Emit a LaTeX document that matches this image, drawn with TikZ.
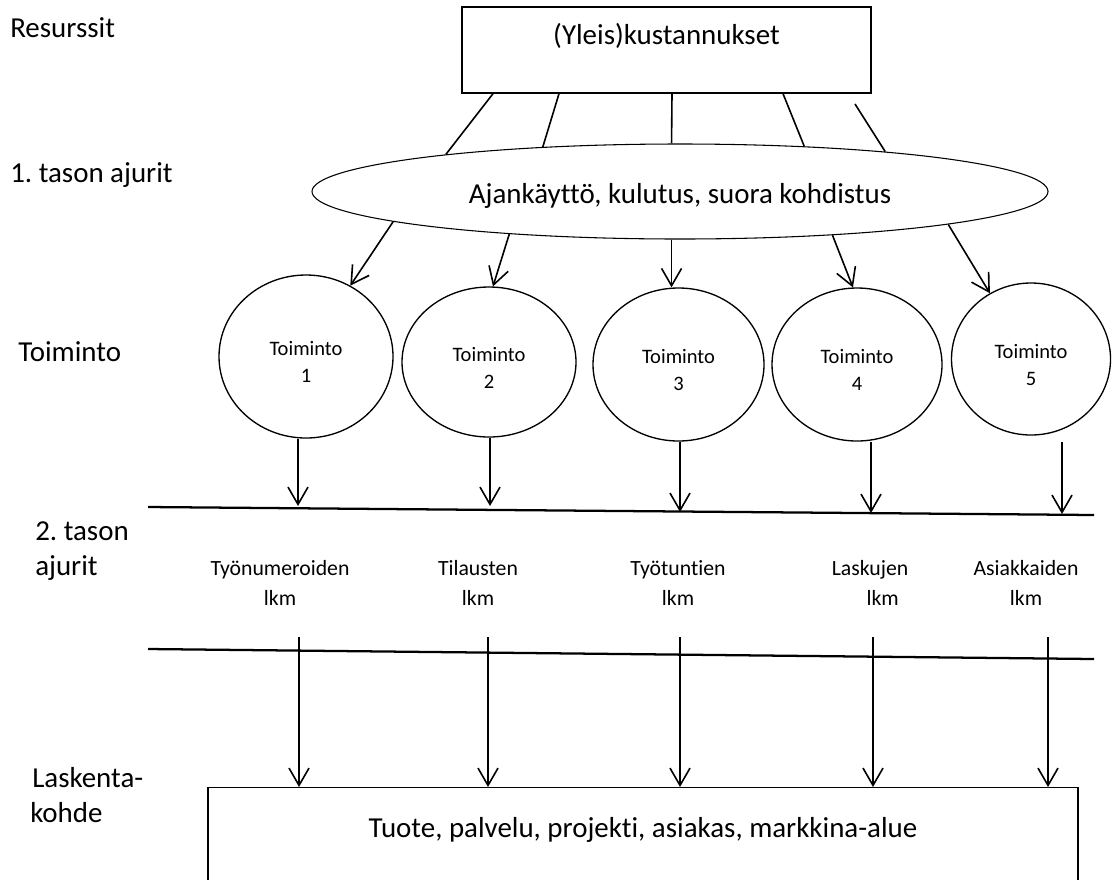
\documentclass[tikz,border=0pt]{standalone}
\usepackage{fontspec}
\setmainfont{Carlito}[Ligatures=NoCommon]
\frenchspacing
\usetikzlibrary{shapes.geometric}
\usetikzlibrary{arrows.meta}

\tikzset{
	iso/.style = {font=\fontsize{21.7}{26}\selectfont, inner sep=0pt},
	pieni/.style = {font=\fontsize{15.4}{20.2}\selectfont, align=center, inner sep=0pt},
	ajuri/.style = {font=\fontsize{16.3}{22.5}\selectfont, align=center, inner sep=0pt},
	laatikko/.style = {draw, rectangle, line width=1pt, inner sep=0pt},
	toiminto/.style = {draw, ellipse, line width=1pt, inner sep=0pt, pieni, text height=39pt, text depth=0pt},
	viiva/.style = {line width=1.2pt},
	nuoli/.style = {line width=1.2pt, ->},
	taso/.style = {line width=1.7pt},
}

\begin{document}
\begin{tikzpicture}[>={Straight Barb[length=13pt, width=15pt]}, x=0.75pt, y=-0.75pt]
	\useasboundingbox (0,0) rectangle (1112,879);
	\clip (0,0) rectangle (1112,879);

	% tasojen nimet vasemmalla
	\node [iso, anchor=base west] (resurssit) at (10,37) {Resurssit};
	\node [iso, anchor=base west] (taso1) at (10,182) {1. tason ajurit};
	\node [iso, anchor=base west] (toimnimi) at (18,361) {Toiminto};
	\node [iso, anchor=base west] (taso2) at (35,540) {2. tason};
	\node [iso, anchor=base west] (taso2b) at (35,575) {ajurit};
	\node [iso, anchor=base west] (kohdenimi) at (32,787) {Laskenta-};
	\node [iso, anchor=base west] (kohdenimib) at (30,822) {kohde};

	% kustannukset ja 1. tason ajurit
	\node [laatikko, minimum width=306.75pt, minimum height=64.5pt] (kust) at (666.5,50) {};
	\node [iso, anchor=base] (kusttxt) at (666.5,44) {(Yleis)kustannukset};
	\node [draw, ellipse, line width=0.8pt, minimum width=552pt, minimum height=71.25pt, iso, text height=23pt, text depth=4.3pt] (aj) at (680,191.5) {Ajankäyttö, kulutus, suora kohdistus};
	\coordinate (irto) at (855,104);
	\draw [viiva] (493,0 |- kust.south) -- (aj.171);
	\draw [viiva] (559,0 |- kust.south) -- (aj.162);
	\draw [viiva] (672,0 |- kust.south) -- (aj.100);
	\draw [viiva] (783,0 |- kust.south) -- (aj.20);
	\draw [viiva] (irto) -- (aj.11);

	% toiminnot
	\node [toiminto, minimum width=130.5pt, minimum height=122.25pt] (t1) at (306,356.5) {Toiminto\\1};
	\node [toiminto, minimum width=130.5pt, minimum height=112.5pt] (t2) at (489,362) {Toiminto\\2};
	\node [toiminto, minimum width=128.25pt, minimum height=114.75pt] (t3) at (678.5,364.5) {Toiminto\\3};
	\node [toiminto, minimum width=127.5pt, minimum height=114.75pt] (t4) at (857,364.5) {Toiminto\\4};
	\node [toiminto, minimum width=119.25pt, minimum height=114pt] (t5) at (1031,359) {Toiminto\\5};
	\draw [nuoli] (aj.186) -- (t1.58);
	\draw [nuoli] (aj.194) -- (t2.87);
	\draw [nuoli] (aj.260) -- (aj.260 |- t3.north);
	\draw [nuoli] (aj.344) -- (t4.93);
	\draw [nuoli] (aj.353) -- (t5.122);

	% 2. tason ajurit
	\draw [taso] (148,507) -- (1094,515);
	\draw [taso] (148,649) -- (1094,659);
	\coordinate (a1) at (298,506);
	\coordinate (a2) at (490,506);
	\coordinate (a3) at (680,512);
	\coordinate (a4) at (871,513);
	\coordinate (a5) at (1062,514);
	\draw [nuoli] (a1 |- t1.south) -- (a1);
	\draw [nuoli] (a2 |- t2.south) -- (a2);
	\draw [nuoli] (a3 |- t3.south) -- (a3);
	\draw [nuoli] (a4 |- t4.south) -- (a4);
	\draw [nuoli] ([yshift=-5pt]a5 |- t5.south) -- (a5);
	\node [ajuri] (d1) at (280,583) {Työnumeroiden\\lkm};
	\node [ajuri] (d2) at (478,583) {Tilausten\\lkm};
	\node [ajuri] (d3) at (678,583) {Työtuntien\\lkm};
	\node [ajuri] (d4) at (870,583) {Laskujen\\\hspace*{19pt}lkm};
	\node [ajuri] (d5) at (1026,583) {Asiakkaiden\\lkm};

	% laskentakohde
	\node [laatikko, anchor=north, minimum width=652.5pt, minimum height=90pt] (kohde) at (643,787) {};
	\node [iso, anchor=base] (kohdetxt) at (643,837) {Tuote, palvelu, projekti, asiakas, markkina-alue};
	\coordinate (b1) at (299,637);
	\coordinate (b2) at (488,637);
	\coordinate (b3) at (680,637);
	\coordinate (b4) at (873,637);
	\coordinate (b5) at (1048,637);
	\draw [nuoli] (b1) -- (b1 |- kohde.north);
	\draw [nuoli] (b2) -- (b2 |- kohde.north);
	\draw [nuoli] (b3) -- (b3 |- kohde.north);
	\draw [nuoli] (b4) -- (b4 |- kohde.north);
	\draw [nuoli] (b5) -- (b5 |- kohde.north);
\end{tikzpicture}
\end{document}
